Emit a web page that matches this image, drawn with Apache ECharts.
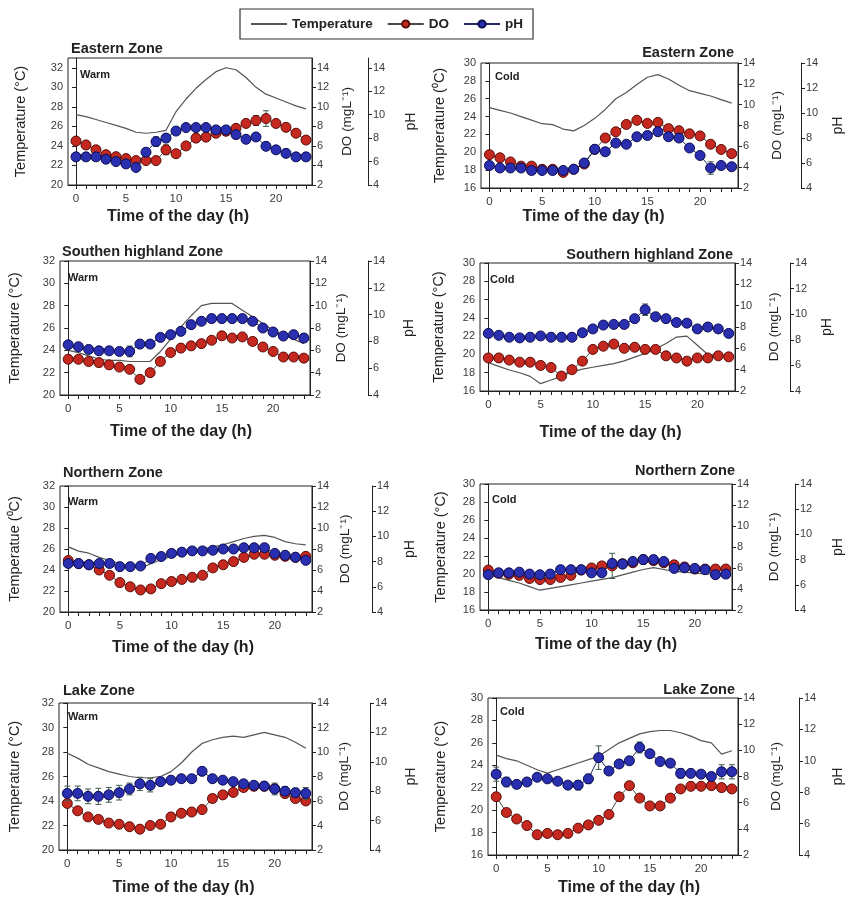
<!DOCTYPE html>
<html>
<head>
<meta charset="utf-8">
<script src="https://cdn.jsdelivr.net/npm/echarts@6/dist/echarts.min.js"></script>
<style>
  html, body { margin: 0; padding: 0; background: #fff; }
  #chart { width: 846px; height: 904px; }
</style>
</head>
<body>
<div id="chart"></div>
<script>
// ---- shared axis values ----
const hours = [0,1,2,3,4,5,6,7,8,9,10,11,12,13,14,15,16,17,18,19,20,21,22,23];
const hourLabels = [0, 5, 10, 15, 20];
const warmTempTicks = [20, 22, 24, 26, 28, 30, 32];
const coldTempTicks = [16, 18, 20, 22, 24, 26, 28, 30];
const doTicks = [2, 4, 6, 8, 10, 12, 14];
const phTicks = [4, 6, 8, 10, 12, 14];

// ---- Eastern Zone ----
const eastWarmTemp  = [27.2,27.0,26.7,26.4,26.1,25.8,25.4,25.3,25.4,25.6,27.5,28.8,29.9,30.8,31.6,32.0,31.8,31.0,30.0,29.3,28.9,28.5,28.1,27.8];
const eastWarmDO    = [6.5,6.1,5.6,5.1,4.9,4.7,4.5,4.5,4.5,5.6,5.2,6.0,6.8,6.9,7.3,7.5,7.8,8.3,8.6,8.8,8.3,7.9,7.3,6.6];
const eastWarmDOErr = [0.3,0.3,0.3,0.3,0.3,0.3,0.3,0.3,0.3,0.5,0.3,0.3,0.4,0.4,0.4,0.4,0.3,0.4,0.5,0.8,0.4,0.3,0.3,0.3];
const eastWarmPH    = [6.4,6.4,6.4,6.2,6.0,5.8,5.5,6.8,7.7,8.0,8.6,8.9,8.9,8.9,8.7,8.7,8.3,7.9,8.1,7.3,7.0,6.7,6.4,6.4];
const eastWarmPHErr = [0.2,0.2,0.2,0.2,0.2,0.2,0.2,0.3,0.4,0.3,0.2,0.2,0.2,0.2,0.2,0.2,0.2,0.2,0.2,0.2,0.2,0.2,0.2,0.2];

const eastColdTemp  = [25.0,24.7,24.4,24.0,23.6,23.2,23.1,22.6,22.4,23.0,23.8,24.8,26.0,26.7,27.6,28.4,28.7,28.2,27.5,26.9,26.6,26.3,25.9,25.5];
const eastColdDO    = [5.2,4.9,4.5,4.1,4.1,3.8,3.8,3.5,3.8,4.3,5.7,6.8,7.4,8.1,8.5,8.2,8.3,7.7,7.5,7.2,7.0,6.2,5.7,5.3];
const eastColdDOErr = [0.2,0.2,0.2,0.2,0.2,0.2,0.2,0.2,0.2,0.2,0.2,0.2,0.2,0.2,0.2,0.2,0.2,0.2,0.2,0.2,0.2,0.2,0.2,0.2];
const eastColdPH    = [5.8,5.6,5.6,5.6,5.4,5.4,5.4,5.4,5.5,6.0,7.1,6.9,7.6,7.5,8.1,8.2,8.5,8.1,8.0,7.2,6.6,5.6,5.8,5.7];
const eastColdPHErr = [0.15,0.15,0.15,0.15,0.15,0.15,0.15,0.15,0.15,0.15,0.15,0.15,0.15,0.15,0.15,0.15,0.15,0.15,0.15,0.15,0.15,0.5,0.15,0.15];

// ---- Southern highland Zone ----
const southWarmTemp  = [24.0,23.8,23.5,23.2,23.1,23.1,23.0,23.0,23.0,23.9,25.0,26.1,27.1,28.0,28.2,28.2,28.2,27.6,27.0,26.4,25.8,25.4,25.0,24.6];
const southWarmDO    = [5.2,5.2,5.0,4.9,4.7,4.5,4.3,3.4,4.0,5.0,5.8,6.2,6.4,6.6,6.9,7.3,7.1,7.2,6.8,6.3,5.9,5.4,5.4,5.3];
const southWarmDOErr = [0.2,0.2,0.2,0.2,0.2,0.2,0.2,0.2,0.2,0.2,0.2,0.2,0.2,0.2,0.2,0.2,0.2,0.2,0.2,0.2,0.2,0.2,0.2,0.2];
const southWarmPH    = [7.75,7.6,7.4,7.3,7.3,7.25,7.25,7.8,7.8,8.3,8.5,8.75,9.25,9.5,9.7,9.7,9.7,9.7,9.5,9.0,8.7,8.4,8.5,8.25];
const southWarmPHErr = [0.2,0.2,0.2,0.2,0.2,0.2,0.4,0.3,0.2,0.2,0.2,0.2,0.2,0.2,0.2,0.2,0.2,0.2,0.2,0.2,0.2,0.2,0.2,0.3];

const southColdTemp  = [19.1,18.7,18.3,18.0,17.6,16.8,17.2,17.6,18.1,18.4,18.6,18.8,19.0,19.3,19.7,20.1,20.6,21.2,21.9,22.0,21.0,20.0,19.9,19.9];
const southColdDO    = [5.1,5.1,4.9,4.7,4.7,4.4,4.2,3.4,4.0,4.8,5.9,6.2,6.4,6.0,6.1,5.9,5.9,5.3,5.1,4.8,5.1,5.1,5.3,5.2];
const southColdDOErr = [0.2,0.2,0.2,0.2,0.2,0.2,0.2,0.2,0.2,0.2,0.2,0.2,0.2,0.2,0.2,0.2,0.2,0.2,0.2,0.2,0.2,0.2,0.2,0.2];
const southColdPH    = [8.5,8.35,8.2,8.15,8.2,8.3,8.2,8.2,8.2,8.55,8.85,9.15,9.2,9.2,9.65,10.35,9.8,9.65,9.35,9.3,8.85,9.0,8.85,8.5];
const southColdPHErr = [0.15,0.15,0.15,0.15,0.15,0.15,0.15,0.15,0.15,0.15,0.15,0.15,0.15,0.15,0.15,0.45,0.15,0.15,0.15,0.15,0.15,0.3,0.2,0.15];

// ---- Northern Zone ----
const northWarmTemp  = [26.2,25.8,25.6,25.2,24.9,24.6,24.3,24.2,24.6,25.0,25.3,25.6,25.8,26.0,26.2,26.4,26.7,27.0,27.2,27.3,27.1,26.7,26.5,26.4];
const northWarmDO    = [6.9,6.6,6.5,6.0,5.5,4.8,4.4,4.1,4.2,4.7,4.9,5.1,5.3,5.5,6.2,6.5,6.8,7.2,7.5,7.5,7.4,7.3,7.2,7.3];
const northWarmDOErr = [0.15,0.15,0.15,0.15,0.15,0.15,0.15,0.15,0.15,0.15,0.15,0.15,0.15,0.15,0.15,0.15,0.15,0.15,0.15,0.15,0.15,0.15,0.15,0.15];
const northWarmPH    = [7.85,7.85,7.75,7.85,7.85,7.6,7.6,7.65,8.25,8.4,8.65,8.75,8.85,8.85,8.9,9.0,9.0,9.1,9.1,9.1,8.65,8.5,8.35,8.1];
const northWarmPHErr = [0.15,0.15,0.15,0.15,0.15,0.15,0.15,0.15,0.15,0.15,0.15,0.15,0.15,0.15,0.15,0.15,0.15,0.15,0.15,0.15,0.15,0.15,0.15,0.15];

const northColdTemp  = [19.9,19.6,19.3,19.0,18.6,18.2,18.4,18.6,18.8,19.0,19.2,19.4,19.6,19.9,20.2,20.5,20.7,20.5,20.3,20.2,20.1,20.0,20.0,20.0];
const northColdDO    = [5.8,5.5,5.4,5.3,5.0,4.9,4.9,5.1,5.3,5.8,6.0,6.2,6.2,6.4,6.5,6.8,6.7,6.5,6.3,6.1,5.9,5.9,5.9,5.9];
const northColdDOErr = [0.2,0.2,0.2,0.2,0.2,0.2,0.2,0.2,0.2,0.2,0.2,0.2,1.2,0.2,0.2,0.2,0.2,0.2,0.2,0.2,0.2,0.2,0.2,0.2];
const northColdPH    = [6.8,6.95,6.95,7.0,6.85,6.8,6.85,7.2,7.2,7.2,6.95,6.95,7.7,7.65,7.85,8.0,8.0,7.85,7.3,7.35,7.3,7.2,6.8,6.85];
const northColdPHErr = [0.15,0.15,0.15,0.15,0.15,0.15,0.15,0.15,0.15,0.15,0.15,0.15,0.2,0.15,0.15,0.35,0.15,0.15,0.15,0.15,0.15,0.15,0.15,0.15];

// ---- Lake Zone ----
const lakeWarmTemp  = [27.9,27.5,27.0,26.7,26.4,26.2,26.0,25.9,25.9,26.0,26.4,27.1,28.0,28.7,29.0,29.2,29.3,29.2,29.4,29.6,29.4,29.2,28.8,28.3];
const lakeWarmDO    = [5.8,5.2,4.7,4.5,4.2,4.1,3.9,3.7,4.0,4.1,4.7,5.0,5.1,5.3,6.2,6.5,6.7,7.1,7.2,7.2,7.0,6.6,6.2,6.0];
const lakeWarmDOErr = [0.2,0.2,0.2,0.2,0.2,0.2,0.3,0.3,0.2,0.2,0.2,0.2,0.2,0.2,0.2,0.2,0.2,0.2,0.2,0.2,0.2,0.2,0.2,0.2];
const lakeWarmPH    = [7.85,7.85,7.65,7.65,7.75,7.9,8.15,8.5,8.4,8.65,8.75,8.85,8.85,9.35,8.85,8.75,8.65,8.5,8.4,8.35,8.15,8.0,7.9,7.85];
const lakeWarmPHErr = [0.5,0.5,0.5,0.55,0.5,0.5,0.4,0.45,0.45,0.2,0.15,0.15,0.15,0.15,0.15,0.15,0.15,0.15,0.15,0.2,0.4,0.3,0.3,0.4];

const lakeColdTemp  = [24.9,24.6,24.4,24.0,23.6,23.3,23.6,23.9,24.2,24.5,24.8,25.4,26.0,26.4,26.8,27.0,27.1,27.1,26.9,26.6,26.2,26.0,25.0,25.3];
const lakeColdDO    = [6.45,5.25,4.75,4.25,3.55,3.65,3.55,3.65,4.05,4.3,4.65,5.1,6.45,7.3,6.35,5.75,5.75,6.35,7.05,7.25,7.25,7.3,7.15,7.05];
const lakeColdDOErr = [0.2,0.3,0.2,0.3,0.2,0.2,0.2,0.2,0.2,0.2,0.2,0.2,0.2,0.2,0.2,0.2,0.2,0.2,0.2,0.2,0.2,0.2,0.2,0.2];
const lakeColdPH    = [9.15,8.65,8.5,8.65,8.95,8.85,8.7,8.45,8.45,8.85,10.2,9.35,9.8,10.0,10.85,10.45,9.95,9.85,9.2,9.2,9.15,9.0,9.3,9.3];
const lakeColdPHErr = [0.45,0.3,0.15,0.15,0.15,0.2,0.2,0.2,0.3,0.3,0.75,0.2,0.15,0.15,0.35,0.15,0.15,0.15,0.3,0.15,0.15,0.2,0.45,0.45];

// ---- panel layout (pixel boxes, axis offsets, label gaps, x-title nudge) ----
const panels = [
  { zone: 'Eastern Zone', season: 'Warm', tempName: 'Temperature (\u00B0C)', ticks: warmTempTicks, topPad: 1,
    temp: eastWarmTemp, dox: eastWarmDO, doErr: eastWarmDOErr, ph: eastWarmPH, phErr: eastWarmPHErr,
    box: [68, 58, 244, 127], phOff: 56, gaps: { x: 24, t: 40, d: 28, p: 36 }, xShift: -12,
    title: { left: 71, top: 41 }, tag: [80, 69] },
  { zone: 'Eastern Zone', season: 'Cold', tempName: 'Temprerature (\u2070C)', ticks: coldTempTicks, topPad: 0,
    temp: eastColdTemp, dox: eastColdDO, doErr: eastColdDOErr, ph: eastColdPH, phErr: eastColdPHErr,
    box: [481, 63, 258, 125], phOff: 63, gaps: { x: 18, t: 34, d: 32, p: 30 }, xShift: -16,
    title: { right: 112, top: 45 }, tag: [495, 71] },
  { zone: 'Southen highland Zone', season: 'Warm', tempName: 'Temperature (\u00B0C)', ticks: warmTempTicks, topPad: 0,
    temp: southWarmTemp, dox: southWarmDO, doErr: southWarmDOErr, ph: southWarmPH, phErr: southWarmPHErr,
    box: [60, 261, 250, 134], phOff: 58, gaps: { x: 29, t: 38, d: 24, p: 34 }, xShift: -4,
    title: { left: 62, top: 244 }, tag: [68, 272] },
  { zone: 'Southern highland Zone', season: 'Cold', tempName: 'Temperature (\u00B0C)', ticks: coldTempTicks, topPad: 0,
    temp: southColdTemp, dox: southColdDO, doErr: southColdDOErr, ph: southColdPH, phErr: southColdPHErr,
    box: [480, 263, 255, 128], phOff: 55, gaps: { x: 34, t: 34, d: 32, p: 30 }, xShift: 3,
    title: { right: 113, top: 247 }, tag: [490, 274] },
  { zone: 'Northern Zone', season: 'Warm', tempName: 'Temperatue (\u2070C)', ticks: warmTempTicks, topPad: 0,
    temp: northWarmTemp, dox: northWarmDO, doErr: northWarmDOErr, ph: northWarmPH, phErr: northWarmPHErr,
    box: [60, 486, 252, 126], phOff: 60, gaps: { x: 28, t: 38, d: 26, p: 31 }, xShift: -3,
    title: { left: 63, top: 465 }, tag: [68, 496] },
  { zone: 'Northern Zone', season: 'Cold', tempName: 'Temperature (\u00B0C)', ticks: coldTempTicks, topPad: 0,
    temp: northColdTemp, dox: northColdDO, doErr: northColdDOErr, ph: northColdPH, phErr: northColdPHErr,
    box: [480, 484, 255, 126], phOff: 63, gaps: { x: 27, t: 32, d: 35, p: 36 }, xShift: 0,
    title: { right: 111, top: 463 }, tag: [492, 494] },
  { zone: 'Lake Zone', season: 'Warm', tempName: 'Temperature (\u00B0C)', ticks: warmTempTicks, topPad: 0,
    temp: lakeWarmTemp, dox: lakeWarmDO, doErr: lakeWarmDOErr, ph: lakeWarmPH, phErr: lakeWarmPHErr,
    box: [59, 703, 253, 147], phOff: 58, gaps: { x: 30, t: 37, d: 25, p: 34 }, xShift: -2,
    title: { left: 63, top: 683 }, tag: [68, 711] },
  { zone: 'Lake Zone', season: 'Cold', tempName: 'Temperature (\u00B0C)', ticks: coldTempTicks, topPad: 0,
    temp: lakeColdTemp, dox: lakeColdDO, doErr: lakeColdDOErr, ph: lakeColdPH, phErr: lakeColdPHErr,
    box: [488, 698, 254, 157], phOff: 61, gaps: { x: 25, t: 40, d: 31, p: 32 }, xShift: 16,
    title: { right: 111, top: 682 }, tag: [500, 706] }
];

const FONT = '"Liberation Sans", Arial, Helvetica, sans-serif';
const INK = '#222';
const LABEL = '#3a3a3a';

// vertical error bar with short caps
function errorBar(params, api) {
  const x = api.value(0), y = api.value(1), e = api.value(2);
  const lo = api.coord([x, y - e]);
  const hi = api.coord([x, y + e]);
  const cap = 3;
  const style = { stroke: '#3f5a4c', lineWidth: 1 };
  return {
    type: 'group',
    children: [
      { type: 'line', shape: { x1: lo[0], y1: lo[1], x2: hi[0], y2: hi[1] }, style },
      { type: 'line', shape: { x1: lo[0] - cap, y1: lo[1], x2: lo[0] + cap, y2: lo[1] }, style },
      { type: 'line', shape: { x1: hi[0] - cap, y1: hi[1], x2: hi[0] + cap, y2: hi[1] }, style }
    ]
  };
}

function valueAxisBase(ticks) {
  return {
    type: 'value',
    axisLine: { show: true, lineStyle: { color: INK, width: 1 } },
    axisTick: { show: true, inside: false, length: 4, customValues: ticks, lineStyle: { color: INK } },
    axisLabel: { customValues: ticks, color: LABEL, fontSize: 11, fontFamily: FONT, margin: 5 },
    splitLine: { show: false }
  };
}

const grids = [], xAxes = [], yAxes = [], series = [], titles = [];

panels.forEach((p, i) => {
  const [left, top, width, height] = p.box;
  grids.push({ left, top, width, height, show: true, borderColor: INK, borderWidth: 1, backgroundColor: 'transparent', containLabel: false });

  const s = p.xShift;
  xAxes.push({
    type: 'value', gridIndex: i, min: -0.8, max: 23.6,
    name: 'Time of the day (h)', nameLocation: 'middle', nameGap: p.gaps.x,
    nameTextStyle: {
      fontSize: 16, fontWeight: 'bold', color: INK, fontFamily: FONT,
      padding: s < 0 ? [0, -2 * s, 0, 0] : [0, 0, 0, 2 * s]
    },
    axisLine: { show: true, lineStyle: { color: INK, width: 1 } },
    axisTick: { show: true, inside: false, length: 4, customValues: hours, lineStyle: { color: INK } },
    axisLabel: { customValues: hourLabels, color: LABEL, fontSize: 11.5, fontFamily: FONT, margin: 8 },
    splitLine: { show: false }
  });

  const tMin = p.ticks[0], tMax = p.ticks[p.ticks.length - 1];
  const span = tMax - tMin;
  const pad = p.topPad;
  yAxes.push(Object.assign(valueAxisBase(p.ticks), {
    gridIndex: i, position: 'left', min: tMin, max: tMax + pad,
    name: p.tempName, nameLocation: 'middle', nameGap: p.gaps.t,
    nameTextStyle: { fontSize: 14.5, color: INK, fontFamily: FONT }
  }));
  yAxes.push(Object.assign(valueAxisBase(doTicks), {
    gridIndex: i, position: 'right', offset: 0,
    min: doTicks[0], max: doTicks[doTicks.length - 1] + pad * (doTicks[doTicks.length - 1] - doTicks[0]) / span,
    name: 'DO (mgL\u207B\u00B9)', nameLocation: 'middle', nameGap: p.gaps.d,
    nameTextStyle: { fontSize: 13.5, color: INK, fontFamily: FONT }
  }));
  yAxes.push(Object.assign(valueAxisBase(phTicks), {
    gridIndex: i, position: 'right', offset: p.phOff,
    min: phTicks[0], max: phTicks[phTicks.length - 1] + pad * (phTicks[phTicks.length - 1] - phTicks[0]) / span,
    name: 'pH', nameLocation: 'middle', nameGap: p.gaps.p,
    nameTextStyle: { fontSize: 14, color: INK, fontFamily: FONT }
  }));

  const t = 3 * i;
  series.push({
    name: 'Temperature', type: 'line', xAxisIndex: i, yAxisIndex: t,
    data: hours.map((h, k) => [h, p.temp[k]]),
    symbol: 'none', itemStyle: { color: '#555' },
    lineStyle: { color: '#555', width: 1.2 }, z: 2, silent: true
  });
  series.push({
    name: 'DO error', type: 'custom', xAxisIndex: i, yAxisIndex: t + 1,
    renderItem: errorBar, encode: { x: 0, y: 1 },
    data: hours.map((h, k) => [h, p.dox[k], p.doErr[k]]), z: 3, silent: true
  });
  series.push({
    name: 'DO', type: 'line', xAxisIndex: i, yAxisIndex: t + 1,
    data: hours.map((h, k) => [h, p.dox[k]]),
    symbol: 'circle', symbolSize: 10,
    itemStyle: { color: '#c4281f', borderColor: '#5a0c08', borderWidth: 1 },
    lineStyle: { color: '#4a4a3e', width: 1 }, z: 4, silent: true
  });
  series.push({
    name: 'pH error', type: 'custom', xAxisIndex: i, yAxisIndex: t + 2,
    renderItem: errorBar, encode: { x: 0, y: 1 },
    data: hours.map((h, k) => [h, p.ph[k], p.phErr[k]]), z: 5, silent: true
  });
  series.push({
    name: 'pH', type: 'line', xAxisIndex: i, yAxisIndex: t + 2,
    data: hours.map((h, k) => [h, p.ph[k]]),
    symbol: 'circle', symbolSize: 10,
    itemStyle: { color: '#2a2fb0', borderColor: '#0c0c52', borderWidth: 1 },
    lineStyle: { color: '#23285e', width: 1 }, z: 6, silent: true
  });

  titles.push(Object.assign({
    text: p.zone, padding: 0,
    textStyle: { fontSize: 14.5, fontWeight: 'bold', color: INK, fontFamily: FONT }
  }, p.title));
  titles.push({
    text: p.season, left: p.tag[0], top: p.tag[1], padding: 0,
    textStyle: { fontSize: 11, fontWeight: 'bold', color: INK, fontFamily: FONT }
  });
});

const chart = echarts.init(document.getElementById('chart'), null, { renderer: 'canvas' });
chart.setOption({
  animation: false,
  backgroundColor: '#ffffff',
  textStyle: { fontFamily: FONT },
  title: titles,
  legend: {
    data: [
      { name: 'Temperature', itemStyle: { opacity: 0, borderWidth: 0 } },
      { name: 'DO' },
      { name: 'pH' }
    ],
    left: 240, top: 9,
    padding: [8, 10],
    itemGap: 14, itemWidth: 36, itemHeight: 9,
    borderColor: '#333', borderWidth: 1.2,
    selectedMode: false,
    textStyle: { fontSize: 13.5, fontWeight: 'bold', color: INK, fontFamily: FONT }
  },
  grid: grids,
  xAxis: xAxes,
  yAxis: yAxes,
  series: series
});
</script>
</body>
</html>
